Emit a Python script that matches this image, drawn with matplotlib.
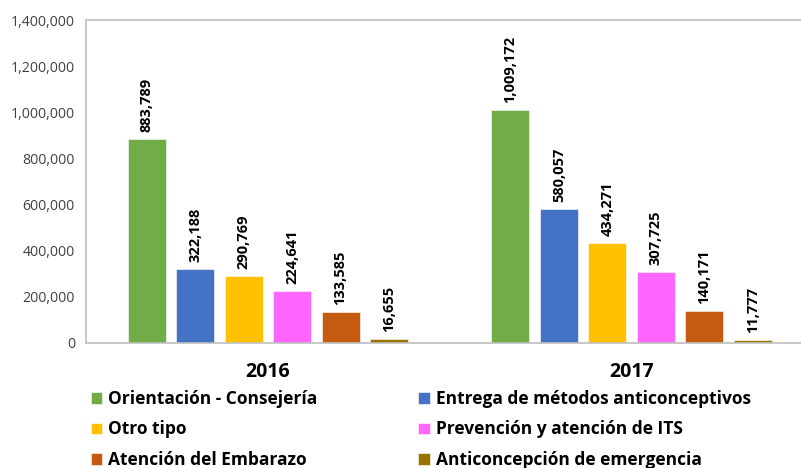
import matplotlib
matplotlib.use("Agg")
import matplotlib.pyplot as plt
import numpy as np
from matplotlib import font_manager

names = {f.name for f in font_manager.fontManager.ttflist}
fam = [f for f in ["Liberation Sans Narrow", "DejaVu Sans Condensed", "Open Sans", "DejaVu Sans"] if f in names] + ["DejaVu Sans"]
plt.rcParams['font.family'] = fam

years = ["2016", "2017"]
series = ["Orientación - Consejería", "Entrega de métodos anticonceptivos", "Otro tipo",
          "Prevención y atención de ITS", "Atención del Embarazo", "Anticoncepción de emergencia"]
values_2016 = [883789, 322188, 290769, 224641, 133585, 16655]
values_2017 = [1009172, 580057, 434271, 307725, 140171, 11777]
colors = ["#70AD47", "#4472C4", "#FFC000", "#FF66FF", "#C55A11", "#997300"]
yticks = [0, 200000, 400000, 600000, 800000, 1000000, 1200000, 1400000]

fig = plt.figure(figsize=(8.01, 4.68), dpi=100)
ax = fig.add_axes([86/801, 125/468, 727.5/801, 323/468])

x = np.arange(len(years))
pitch = 0.1333
width = 0.104
handles = []
for i, name in enumerate(series):
    vals = [values_2016[i], values_2017[i]]
    pos = x + (i - 2.5) * pitch
    b = ax.bar(pos, vals, width, color=colors[i], edgecolor="#ffffff", linewidth=0.4, label=name)
    handles.append(b)
    for p, v in zip(pos, vals):
        ax.annotate(f"{v:,}", (p, v), xytext=(0, 5), textcoords="offset points",
                    rotation=90, ha="center", va="bottom", fontsize=10.5, fontweight="bold", color="#000000")

ax.set_xlim(-0.5, 1.5)
ax.set_ylim(0, 1400000)
ax.set_yticks(yticks)
ax.set_yticklabels([f"{v:,}" for v in yticks], fontsize=10.2, color="#404040")
ax.set_xticks(x)
ax.set_xticklabels(years, fontsize=14, fontweight="bold", color="#000000")
ax.tick_params(axis="both", length=0)
ax.tick_params(axis="y", pad=8)
ax.tick_params(axis="x", pad=14)
for s in ["left", "top", "bottom", "right"]:
    ax.spines[s].set_color("#BFBFBF")
    ax.spines[s].set_linewidth(1.2)

order = [0, 2, 4, 1, 3, 5]
leg = fig.legend([handles[k] for k in order], [series[k] for k in order], ncol=2,
                 loc="upper left", bbox_to_anchor=(91/801, 1 - 390/468), frameon=False,
                 prop={"weight": "bold", "size": 12.5}, handlelength=0.65, handleheight=0.65,
                 handletextpad=0.35, columnspacing=5.8, labelspacing=0.72, borderaxespad=0, borderpad=0)

fig.savefig("out.png", dpi=100)
